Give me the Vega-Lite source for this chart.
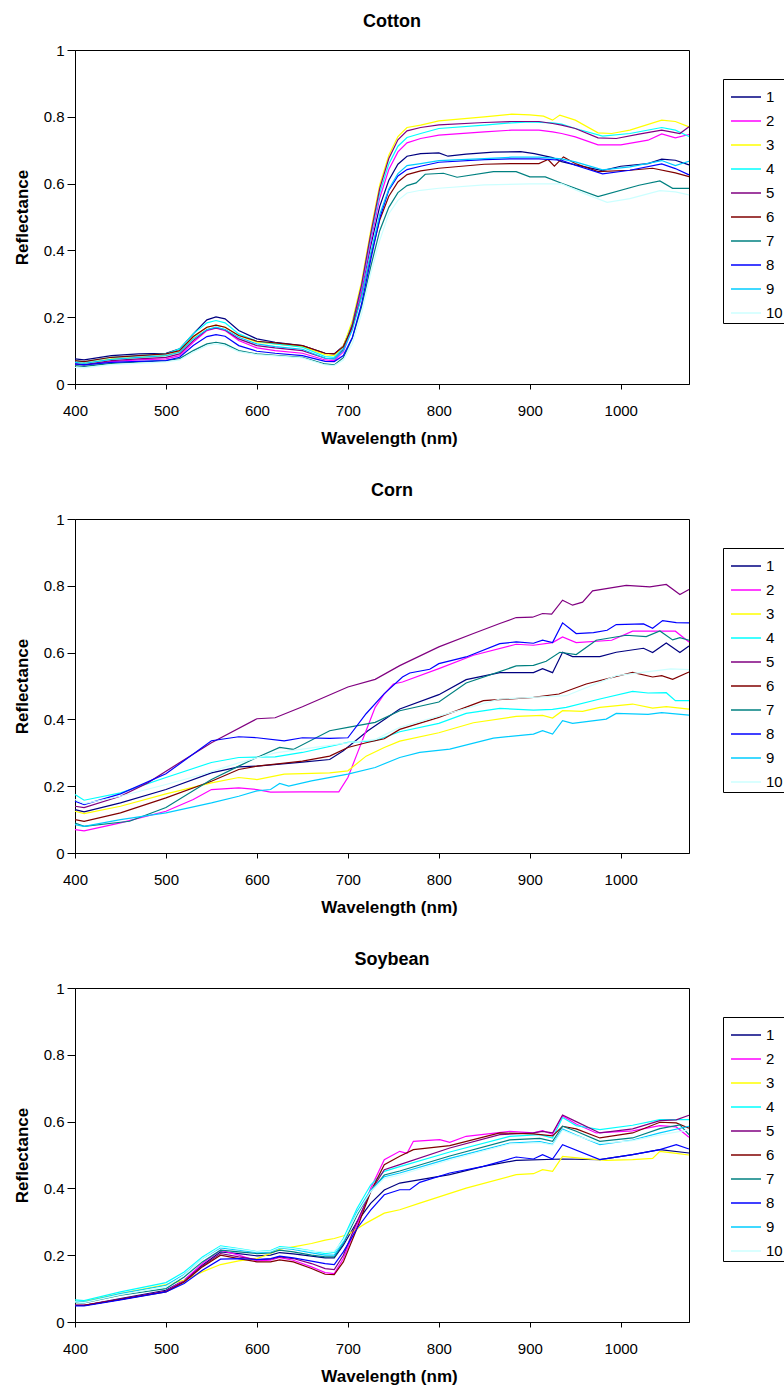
{
"$schema":"https://vega.github.io/schema/vega-lite/v6.json",
"padding":{"left":12,"top":12,"right":0,"bottom":0},
"config":{
 "font":"Liberation Sans",
 "view":{"stroke":"black","strokeWidth":1},
 "axis":{"domainColor":"black","tickColor":"black","labelColor":"black","titleColor":"black","grid":false,"labelFlush":false,"labelFontSize":15,"titleFontSize":17,"titleFontWeight":"bold","labelFont":"Liberation Sans","titleFont":"Liberation Sans"},
 "title":{"fontSize":18,"fontWeight":"bold","font":"Liberation Sans","color":"black","offset":12,"dx":10},
 "legend":{"title":null,"orient":"none","legendX":648,"legendY":29,"strokeColor":"black","fillColor":"white","padding":2,"symbolOffset":5,"symbolType":"stroke","symbolSize":900,"symbolStrokeWidth":1.5,"labelFontSize":15,"labelColor":"black","rowPadding":-4,"labelOffset":4,"labelFont":"Liberation Sans"},
 "concat":{"spacing":34}
},
"datasets":{
"cotton":[
{"s":1,"w":400,"r":0.075},{"s":1,"w":410,"r":0.072},{"s":1,"w":440,"r":0.085},{"s":1,"w":470,"r":0.09},{"s":1,"w":500,"r":0.092},{"s":1,"w":515,"r":0.105},{"s":1,"w":530,"r":0.15},{"s":1,"w":545,"r":0.192},{"s":1,"w":555,"r":0.201},{"s":1,"w":565,"r":0.195},{"s":1,"w":580,"r":0.16},{"s":1,"w":600,"r":0.135},{"s":1,"w":620,"r":0.125},{"s":1,"w":650,"r":0.115},{"s":1,"w":675,"r":0.092},{"s":1,"w":685,"r":0.09},{"s":1,"w":695,"r":0.114},{"s":1,"w":705,"r":0.18},{"s":1,"w":715,"r":0.281},{"s":1,"w":725,"r":0.413},{"s":1,"w":735,"r":0.532},{"s":1,"w":745,"r":0.61},{"s":1,"w":755,"r":0.658},{"s":1,"w":765,"r":0.682},{"s":1,"w":780,"r":0.69},{"s":1,"w":800,"r":0.692},{"s":1,"w":810,"r":0.682},{"s":1,"w":830,"r":0.688},{"s":1,"w":860,"r":0.694},{"s":1,"w":890,"r":0.696},{"s":1,"w":905,"r":0.69},{"s":1,"w":915,"r":0.684},{"s":1,"w":925,"r":0.678},{"s":1,"w":935,"r":0.666},{"s":1,"w":950,"r":0.656},{"s":1,"w":980,"r":0.639},{"s":1,"w":1000,"r":0.652},{"s":1,"w":1030,"r":0.66},{"s":1,"w":1045,"r":0.673},{"s":1,"w":1060,"r":0.67},{"s":1,"w":1075,"r":0.656},
{"s":2,"w":400,"r":0.06},{"s":2,"w":410,"r":0.057},{"s":2,"w":440,"r":0.067},{"s":2,"w":470,"r":0.072},{"s":2,"w":500,"r":0.075},{"s":2,"w":515,"r":0.085},{"s":2,"w":530,"r":0.125},{"s":2,"w":545,"r":0.16},{"s":2,"w":555,"r":0.167},{"s":2,"w":565,"r":0.16},{"s":2,"w":580,"r":0.13},{"s":2,"w":600,"r":0.108},{"s":2,"w":620,"r":0.1},{"s":2,"w":650,"r":0.092},{"s":2,"w":675,"r":0.072},{"s":2,"w":685,"r":0.07},{"s":2,"w":695,"r":0.096},{"s":2,"w":705,"r":0.169},{"s":2,"w":715,"r":0.281},{"s":2,"w":725,"r":0.425},{"s":2,"w":735,"r":0.557},{"s":2,"w":745,"r":0.642},{"s":2,"w":755,"r":0.695},{"s":2,"w":765,"r":0.722},{"s":2,"w":780,"r":0.735},{"s":2,"w":800,"r":0.745},{"s":2,"w":850,"r":0.755},{"s":2,"w":880,"r":0.76},{"s":2,"w":910,"r":0.76},{"s":2,"w":925,"r":0.755},{"s":2,"w":935,"r":0.75},{"s":2,"w":950,"r":0.74},{"s":2,"w":975,"r":0.716},{"s":2,"w":1000,"r":0.716},{"s":2,"w":1030,"r":0.73},{"s":2,"w":1045,"r":0.749},{"s":2,"w":1060,"r":0.737},{"s":2,"w":1075,"r":0.747},
{"s":3,"w":400,"r":0.065},{"s":3,"w":410,"r":0.062},{"s":3,"w":440,"r":0.075},{"s":3,"w":470,"r":0.08},{"s":3,"w":500,"r":0.085},{"s":3,"w":515,"r":0.097},{"s":3,"w":530,"r":0.14},{"s":3,"w":545,"r":0.17},{"s":3,"w":555,"r":0.176},{"s":3,"w":565,"r":0.17},{"s":3,"w":580,"r":0.145},{"s":3,"w":600,"r":0.125},{"s":3,"w":620,"r":0.12},{"s":3,"w":650,"r":0.112},{"s":3,"w":675,"r":0.088},{"s":3,"w":685,"r":0.085},{"s":3,"w":695,"r":0.113},{"s":3,"w":705,"r":0.19},{"s":3,"w":715,"r":0.306},{"s":3,"w":725,"r":0.458},{"s":3,"w":735,"r":0.596},{"s":3,"w":745,"r":0.685},{"s":3,"w":755,"r":0.741},{"s":3,"w":765,"r":0.768},{"s":3,"w":780,"r":0.775},{"s":3,"w":800,"r":0.788},{"s":3,"w":850,"r":0.8},{"s":3,"w":880,"r":0.808},{"s":3,"w":900,"r":0.806},{"s":3,"w":915,"r":0.802},{"s":3,"w":925,"r":0.79},{"s":3,"w":933,"r":0.805},{"s":3,"w":950,"r":0.79},{"s":3,"w":975,"r":0.752},{"s":3,"w":990,"r":0.75},{"s":3,"w":1010,"r":0.76},{"s":3,"w":1045,"r":0.79},{"s":3,"w":1060,"r":0.786},{"s":3,"w":1075,"r":0.77},
{"s":4,"w":400,"r":0.07},{"s":4,"w":410,"r":0.066},{"s":4,"w":440,"r":0.08},{"s":4,"w":470,"r":0.085},{"s":4,"w":500,"r":0.09},{"s":4,"w":515,"r":0.105},{"s":4,"w":530,"r":0.15},{"s":4,"w":545,"r":0.183},{"s":4,"w":555,"r":0.19},{"s":4,"w":565,"r":0.183},{"s":4,"w":580,"r":0.15},{"s":4,"w":600,"r":0.128},{"s":4,"w":620,"r":0.12},{"s":4,"w":650,"r":0.11},{"s":4,"w":675,"r":0.082},{"s":4,"w":685,"r":0.08},{"s":4,"w":695,"r":0.107},{"s":4,"w":705,"r":0.18},{"s":4,"w":715,"r":0.293},{"s":4,"w":725,"r":0.439},{"s":4,"w":735,"r":0.572},{"s":4,"w":745,"r":0.659},{"s":4,"w":755,"r":0.712},{"s":4,"w":765,"r":0.738},{"s":4,"w":780,"r":0.75},{"s":4,"w":800,"r":0.765},{"s":4,"w":850,"r":0.775},{"s":4,"w":880,"r":0.782},{"s":4,"w":900,"r":0.785},{"s":4,"w":925,"r":0.782},{"s":4,"w":935,"r":0.778},{"s":4,"w":950,"r":0.765},{"s":4,"w":980,"r":0.742},{"s":4,"w":1010,"r":0.75},{"s":4,"w":1045,"r":0.768},{"s":4,"w":1060,"r":0.76},{"s":4,"w":1075,"r":0.741},
{"s":5,"w":400,"r":0.06},{"s":5,"w":410,"r":0.058},{"s":5,"w":440,"r":0.07},{"s":5,"w":470,"r":0.075},{"s":5,"w":500,"r":0.08},{"s":5,"w":515,"r":0.09},{"s":5,"w":530,"r":0.13},{"s":5,"w":545,"r":0.162},{"s":5,"w":555,"r":0.168},{"s":5,"w":565,"r":0.162},{"s":5,"w":580,"r":0.135},{"s":5,"w":600,"r":0.115},{"s":5,"w":620,"r":0.108},{"s":5,"w":650,"r":0.1},{"s":5,"w":675,"r":0.077},{"s":5,"w":685,"r":0.075},{"s":5,"w":695,"r":0.103},{"s":5,"w":705,"r":0.179},{"s":5,"w":715,"r":0.296},{"s":5,"w":725,"r":0.448},{"s":5,"w":735,"r":0.586},{"s":5,"w":745,"r":0.675},{"s":5,"w":755,"r":0.731},{"s":5,"w":765,"r":0.758},{"s":5,"w":780,"r":0.768},{"s":5,"w":800,"r":0.776},{"s":5,"w":850,"r":0.783},{"s":5,"w":880,"r":0.786},{"s":5,"w":910,"r":0.786},{"s":5,"w":925,"r":0.78},{"s":5,"w":935,"r":0.775},{"s":5,"w":950,"r":0.765},{"s":5,"w":975,"r":0.737},{"s":5,"w":995,"r":0.735},{"s":5,"w":1020,"r":0.748},{"s":5,"w":1045,"r":0.76},{"s":5,"w":1065,"r":0.75},{"s":5,"w":1075,"r":0.77},
{"s":6,"w":400,"r":0.07},{"s":6,"w":410,"r":0.067},{"s":6,"w":440,"r":0.08},{"s":6,"w":470,"r":0.085},{"s":6,"w":500,"r":0.09},{"s":6,"w":515,"r":0.1},{"s":6,"w":530,"r":0.142},{"s":6,"w":545,"r":0.17},{"s":6,"w":555,"r":0.176},{"s":6,"w":565,"r":0.17},{"s":6,"w":580,"r":0.145},{"s":6,"w":600,"r":0.128},{"s":6,"w":620,"r":0.123},{"s":6,"w":650,"r":0.115},{"s":6,"w":675,"r":0.092},{"s":6,"w":685,"r":0.09},{"s":6,"w":695,"r":0.112},{"s":6,"w":705,"r":0.171},{"s":6,"w":715,"r":0.263},{"s":6,"w":725,"r":0.383},{"s":6,"w":735,"r":0.491},{"s":6,"w":745,"r":0.562},{"s":6,"w":755,"r":0.605},{"s":6,"w":765,"r":0.627},{"s":6,"w":780,"r":0.638},{"s":6,"w":800,"r":0.646},{"s":6,"w":850,"r":0.658},{"s":6,"w":880,"r":0.66},{"s":6,"w":910,"r":0.66},{"s":6,"w":920,"r":0.672},{"s":6,"w":927,"r":0.652},{"s":6,"w":937,"r":0.68},{"s":6,"w":950,"r":0.66},{"s":6,"w":975,"r":0.636},{"s":6,"w":1010,"r":0.64},{"s":6,"w":1035,"r":0.646},{"s":6,"w":1060,"r":0.632},{"s":6,"w":1075,"r":0.621},
{"s":7,"w":400,"r":0.055},{"s":7,"w":410,"r":0.053},{"s":7,"w":440,"r":0.062},{"s":7,"w":470,"r":0.066},{"s":7,"w":500,"r":0.07},{"s":7,"w":515,"r":0.076},{"s":7,"w":530,"r":0.1},{"s":7,"w":545,"r":0.12},{"s":7,"w":555,"r":0.125},{"s":7,"w":565,"r":0.12},{"s":7,"w":580,"r":0.1},{"s":7,"w":600,"r":0.09},{"s":7,"w":620,"r":0.086},{"s":7,"w":650,"r":0.08},{"s":7,"w":675,"r":0.06},{"s":7,"w":685,"r":0.057},{"s":7,"w":695,"r":0.079},{"s":7,"w":705,"r":0.138},{"s":7,"w":715,"r":0.231},{"s":7,"w":725,"r":0.35},{"s":7,"w":735,"r":0.459},{"s":7,"w":745,"r":0.529},{"s":7,"w":755,"r":0.573},{"s":7,"w":765,"r":0.594},{"s":7,"w":775,"r":0.602},{"s":7,"w":785,"r":0.628},{"s":7,"w":805,"r":0.631},{"s":7,"w":820,"r":0.619},{"s":7,"w":860,"r":0.636},{"s":7,"w":885,"r":0.636},{"s":7,"w":900,"r":0.62},{"s":7,"w":917,"r":0.62},{"s":7,"w":935,"r":0.601},{"s":7,"w":975,"r":0.561},{"s":7,"w":1020,"r":0.595},{"s":7,"w":1043,"r":0.608},{"s":7,"w":1057,"r":0.586},{"s":7,"w":1075,"r":0.586},
{"s":8,"w":400,"r":0.06},{"s":8,"w":410,"r":0.057},{"s":8,"w":440,"r":0.065},{"s":8,"w":470,"r":0.068},{"s":8,"w":500,"r":0.07},{"s":8,"w":515,"r":0.08},{"s":8,"w":530,"r":0.115},{"s":8,"w":545,"r":0.142},{"s":8,"w":555,"r":0.148},{"s":8,"w":565,"r":0.143},{"s":8,"w":580,"r":0.115},{"s":8,"w":600,"r":0.098},{"s":8,"w":620,"r":0.092},{"s":8,"w":650,"r":0.085},{"s":8,"w":675,"r":0.068},{"s":8,"w":685,"r":0.067},{"s":8,"w":695,"r":0.085},{"s":8,"w":705,"r":0.14},{"s":8,"w":715,"r":0.24},{"s":8,"w":725,"r":0.37},{"s":8,"w":735,"r":0.497},{"s":8,"w":745,"r":0.58},{"s":8,"w":755,"r":0.623},{"s":8,"w":765,"r":0.642},{"s":8,"w":780,"r":0.652},{"s":8,"w":800,"r":0.664},{"s":8,"w":850,"r":0.672},{"s":8,"w":880,"r":0.674},{"s":8,"w":910,"r":0.674},{"s":8,"w":935,"r":0.67},{"s":8,"w":950,"r":0.655},{"s":8,"w":980,"r":0.629},{"s":8,"w":1010,"r":0.64},{"s":8,"w":1045,"r":0.659},{"s":8,"w":1060,"r":0.645},{"s":8,"w":1075,"r":0.626},
{"s":9,"w":400,"r":0.065},{"s":9,"w":410,"r":0.062},{"s":9,"w":440,"r":0.074},{"s":9,"w":470,"r":0.08},{"s":9,"w":500,"r":0.085},{"s":9,"w":515,"r":0.095},{"s":9,"w":530,"r":0.135},{"s":9,"w":545,"r":0.163},{"s":9,"w":555,"r":0.17},{"s":9,"w":565,"r":0.163},{"s":9,"w":580,"r":0.14},{"s":9,"w":600,"r":0.12},{"s":9,"w":620,"r":0.112},{"s":9,"w":650,"r":0.104},{"s":9,"w":675,"r":0.077},{"s":9,"w":685,"r":0.075},{"s":9,"w":695,"r":0.1},{"s":9,"w":705,"r":0.163},{"s":9,"w":715,"r":0.262},{"s":9,"w":725,"r":0.391},{"s":9,"w":735,"r":0.508},{"s":9,"w":745,"r":0.584},{"s":9,"w":755,"r":0.63},{"s":9,"w":765,"r":0.654},{"s":9,"w":780,"r":0.66},{"s":9,"w":800,"r":0.669},{"s":9,"w":850,"r":0.675},{"s":9,"w":880,"r":0.679},{"s":9,"w":910,"r":0.679},{"s":9,"w":935,"r":0.674},{"s":9,"w":950,"r":0.665},{"s":9,"w":980,"r":0.641},{"s":9,"w":1010,"r":0.65},{"s":9,"w":1045,"r":0.669},{"s":9,"w":1060,"r":0.654},{"s":9,"w":1075,"r":0.667},
{"s":10,"w":400,"r":0.05},{"s":10,"w":410,"r":0.048},{"s":10,"w":440,"r":0.058},{"s":10,"w":470,"r":0.062},{"s":10,"w":500,"r":0.066},{"s":10,"w":515,"r":0.072},{"s":10,"w":530,"r":0.095},{"s":10,"w":545,"r":0.115},{"s":10,"w":555,"r":0.12},{"s":10,"w":565,"r":0.115},{"s":10,"w":580,"r":0.097},{"s":10,"w":600,"r":0.088},{"s":10,"w":620,"r":0.084},{"s":10,"w":650,"r":0.078},{"s":10,"w":675,"r":0.057},{"s":10,"w":685,"r":0.055},{"s":10,"w":695,"r":0.072},{"s":10,"w":705,"r":0.122},{"s":10,"w":715,"r":0.21},{"s":10,"w":725,"r":0.33},{"s":10,"w":735,"r":0.43},{"s":10,"w":745,"r":0.51},{"s":10,"w":755,"r":0.55},{"s":10,"w":765,"r":0.572},{"s":10,"w":780,"r":0.58},{"s":10,"w":800,"r":0.586},{"s":10,"w":850,"r":0.596},{"s":10,"w":900,"r":0.599},{"s":10,"w":935,"r":0.599},{"s":10,"w":960,"r":0.57},{"s":10,"w":985,"r":0.544},{"s":10,"w":1010,"r":0.555},{"s":10,"w":1043,"r":0.579},{"s":10,"w":1060,"r":0.575},{"s":10,"w":1075,"r":0.566}
],
"corn":[
{"s":1,"w":400,"r":0.13},{"s":1,"w":410,"r":0.123},{"s":1,"w":450,"r":0.15},{"s":1,"w":500,"r":0.19},{"s":1,"w":550,"r":0.24},{"s":1,"w":580,"r":0.258},{"s":1,"w":600,"r":0.26},{"s":1,"w":650,"r":0.272},{"s":1,"w":680,"r":0.28},{"s":1,"w":695,"r":0.306},{"s":1,"w":722,"r":0.366},{"s":1,"w":757,"r":0.431},{"s":1,"w":800,"r":0.474},{"s":1,"w":830,"r":0.519},{"s":1,"w":867,"r":0.54},{"s":1,"w":904,"r":0.54},{"s":1,"w":914,"r":0.552},{"s":1,"w":925,"r":0.54},{"s":1,"w":936,"r":0.601},{"s":1,"w":947,"r":0.588},{"s":1,"w":977,"r":0.588},{"s":1,"w":995,"r":0.601},{"s":1,"w":1025,"r":0.613},{"s":1,"w":1035,"r":0.6},{"s":1,"w":1050,"r":0.629},{"s":1,"w":1065,"r":0.6},{"s":1,"w":1075,"r":0.62},
{"s":2,"w":400,"r":0.07},{"s":2,"w":410,"r":0.066},{"s":2,"w":450,"r":0.09},{"s":2,"w":500,"r":0.125},{"s":2,"w":530,"r":0.16},{"s":2,"w":550,"r":0.19},{"s":2,"w":580,"r":0.195},{"s":2,"w":600,"r":0.19},{"s":2,"w":615,"r":0.182},{"s":2,"w":650,"r":0.183},{"s":2,"w":690,"r":0.183},{"s":2,"w":700,"r":0.226},{"s":2,"w":710,"r":0.296},{"s":2,"w":720,"r":0.366},{"s":2,"w":730,"r":0.436},{"s":2,"w":740,"r":0.476},{"s":2,"w":750,"r":0.506},{"s":2,"w":760,"r":0.512},{"s":2,"w":800,"r":0.552},{"s":2,"w":838,"r":0.592},{"s":2,"w":885,"r":0.625},{"s":2,"w":904,"r":0.622},{"s":2,"w":925,"r":0.63},{"s":2,"w":936,"r":0.647},{"s":2,"w":951,"r":0.63},{"s":2,"w":990,"r":0.637},{"s":2,"w":1013,"r":0.664},{"s":2,"w":1060,"r":0.664},{"s":2,"w":1075,"r":0.632},
{"s":3,"w":400,"r":0.125},{"s":3,"w":410,"r":0.118},{"s":3,"w":450,"r":0.14},{"s":3,"w":500,"r":0.177},{"s":3,"w":550,"r":0.21},{"s":3,"w":580,"r":0.226},{"s":3,"w":600,"r":0.22},{"s":3,"w":630,"r":0.236},{"s":3,"w":680,"r":0.24},{"s":3,"w":700,"r":0.246},{"s":3,"w":720,"r":0.29},{"s":3,"w":740,"r":0.316},{"s":3,"w":757,"r":0.335},{"s":3,"w":800,"r":0.36},{"s":3,"w":838,"r":0.39},{"s":3,"w":885,"r":0.409},{"s":3,"w":914,"r":0.412},{"s":3,"w":925,"r":0.404},{"s":3,"w":936,"r":0.426},{"s":3,"w":958,"r":0.424},{"s":3,"w":977,"r":0.436},{"s":3,"w":1013,"r":0.446},{"s":3,"w":1035,"r":0.434},{"s":3,"w":1050,"r":0.438},{"s":3,"w":1075,"r":0.431},
{"s":4,"w":400,"r":0.175},{"s":4,"w":410,"r":0.158},{"s":4,"w":450,"r":0.18},{"s":4,"w":500,"r":0.226},{"s":4,"w":550,"r":0.271},{"s":4,"w":580,"r":0.286},{"s":4,"w":620,"r":0.288},{"s":4,"w":650,"r":0.301},{"s":4,"w":700,"r":0.331},{"s":4,"w":730,"r":0.336},{"s":4,"w":757,"r":0.363},{"s":4,"w":800,"r":0.388},{"s":4,"w":830,"r":0.418},{"s":4,"w":867,"r":0.433},{"s":4,"w":904,"r":0.428},{"s":4,"w":925,"r":0.43},{"s":4,"w":940,"r":0.436},{"s":4,"w":977,"r":0.461},{"s":4,"w":1013,"r":0.484},{"s":4,"w":1030,"r":0.479},{"s":4,"w":1050,"r":0.48},{"s":4,"w":1060,"r":0.456},{"s":4,"w":1075,"r":0.456},
{"s":5,"w":400,"r":0.14},{"s":5,"w":410,"r":0.136},{"s":5,"w":450,"r":0.17},{"s":5,"w":480,"r":0.21},{"s":5,"w":500,"r":0.245},{"s":5,"w":550,"r":0.33},{"s":5,"w":600,"r":0.402},{"s":5,"w":620,"r":0.405},{"s":5,"w":650,"r":0.438},{"s":5,"w":700,"r":0.497},{"s":5,"w":730,"r":0.52},{"s":5,"w":757,"r":0.561},{"s":5,"w":800,"r":0.617},{"s":5,"w":838,"r":0.657},{"s":5,"w":867,"r":0.687},{"s":5,"w":885,"r":0.705},{"s":5,"w":903,"r":0.706},{"s":5,"w":914,"r":0.717},{"s":5,"w":924,"r":0.715},{"s":5,"w":936,"r":0.757},{"s":5,"w":947,"r":0.742},{"s":5,"w":958,"r":0.751},{"s":5,"w":969,"r":0.785},{"s":5,"w":1006,"r":0.801},{"s":5,"w":1032,"r":0.797},{"s":5,"w":1050,"r":0.804},{"s":5,"w":1065,"r":0.774},{"s":5,"w":1075,"r":0.789},
{"s":6,"w":400,"r":0.1},{"s":6,"w":410,"r":0.095},{"s":6,"w":450,"r":0.12},{"s":6,"w":500,"r":0.165},{"s":6,"w":550,"r":0.215},{"s":6,"w":580,"r":0.25},{"s":6,"w":600,"r":0.26},{"s":6,"w":650,"r":0.275},{"s":6,"w":680,"r":0.29},{"s":6,"w":700,"r":0.316},{"s":6,"w":720,"r":0.33},{"s":6,"w":740,"r":0.342},{"s":6,"w":757,"r":0.37},{"s":6,"w":800,"r":0.406},{"s":6,"w":849,"r":0.456},{"s":6,"w":904,"r":0.466},{"s":6,"w":932,"r":0.476},{"s":6,"w":962,"r":0.506},{"s":6,"w":1013,"r":0.541},{"s":6,"w":1035,"r":0.527},{"s":6,"w":1045,"r":0.531},{"s":6,"w":1057,"r":0.52},{"s":6,"w":1075,"r":0.542},
{"s":7,"w":400,"r":0.09},{"s":7,"w":410,"r":0.08},{"s":7,"w":460,"r":0.095},{"s":7,"w":500,"r":0.136},{"s":7,"w":550,"r":0.22},{"s":7,"w":580,"r":0.26},{"s":7,"w":600,"r":0.286},{"s":7,"w":625,"r":0.316},{"s":7,"w":640,"r":0.31},{"s":7,"w":680,"r":0.366},{"s":7,"w":700,"r":0.376},{"s":7,"w":730,"r":0.391},{"s":7,"w":757,"r":0.426},{"s":7,"w":800,"r":0.452},{"s":7,"w":830,"r":0.509},{"s":7,"w":885,"r":0.56},{"s":7,"w":904,"r":0.562},{"s":7,"w":918,"r":0.574},{"s":7,"w":933,"r":0.601},{"s":7,"w":951,"r":0.594},{"s":7,"w":973,"r":0.637},{"s":7,"w":1006,"r":0.652},{"s":7,"w":1028,"r":0.648},{"s":7,"w":1043,"r":0.665},{"s":7,"w":1057,"r":0.638},{"s":7,"w":1065,"r":0.645},{"s":7,"w":1075,"r":0.637},
{"s":8,"w":400,"r":0.155},{"s":8,"w":410,"r":0.145},{"s":8,"w":450,"r":0.177},{"s":8,"w":500,"r":0.237},{"s":8,"w":550,"r":0.336},{"s":8,"w":580,"r":0.348},{"s":8,"w":600,"r":0.345},{"s":8,"w":630,"r":0.336},{"s":8,"w":650,"r":0.345},{"s":8,"w":680,"r":0.343},{"s":8,"w":700,"r":0.345},{"s":8,"w":720,"r":0.417},{"s":8,"w":740,"r":0.477},{"s":8,"w":760,"r":0.527},{"s":8,"w":768,"r":0.539},{"s":8,"w":790,"r":0.55},{"s":8,"w":800,"r":0.567},{"s":8,"w":830,"r":0.587},{"s":8,"w":867,"r":0.627},{"s":8,"w":885,"r":0.632},{"s":8,"w":904,"r":0.628},{"s":8,"w":914,"r":0.637},{"s":8,"w":925,"r":0.63},{"s":8,"w":936,"r":0.689},{"s":8,"w":951,"r":0.657},{"s":8,"w":970,"r":0.66},{"s":8,"w":985,"r":0.667},{"s":8,"w":995,"r":0.684},{"s":8,"w":1025,"r":0.686},{"s":8,"w":1035,"r":0.673},{"s":8,"w":1046,"r":0.696},{"s":8,"w":1061,"r":0.69},{"s":8,"w":1075,"r":0.689},
{"s":9,"w":400,"r":0.085},{"s":9,"w":410,"r":0.08},{"s":9,"w":450,"r":0.1},{"s":9,"w":500,"r":0.12},{"s":9,"w":550,"r":0.15},{"s":9,"w":580,"r":0.17},{"s":9,"w":600,"r":0.186},{"s":9,"w":615,"r":0.19},{"s":9,"w":625,"r":0.208},{"s":9,"w":635,"r":0.2},{"s":9,"w":660,"r":0.216},{"s":9,"w":700,"r":0.236},{"s":9,"w":730,"r":0.256},{"s":9,"w":757,"r":0.286},{"s":9,"w":779,"r":0.301},{"s":9,"w":812,"r":0.311},{"s":9,"w":860,"r":0.344},{"s":9,"w":904,"r":0.356},{"s":9,"w":914,"r":0.366},{"s":9,"w":925,"r":0.356},{"s":9,"w":936,"r":0.396},{"s":9,"w":947,"r":0.388},{"s":9,"w":984,"r":0.401},{"s":9,"w":995,"r":0.418},{"s":9,"w":1030,"r":0.415},{"s":9,"w":1045,"r":0.42},{"s":9,"w":1075,"r":0.413},
{"s":10,"w":400,"r":0.16},{"s":10,"w":410,"r":0.148},{"s":10,"w":450,"r":0.17},{"s":10,"w":500,"r":0.205},{"s":10,"w":540,"r":0.235},{"s":10,"w":580,"r":0.27},{"s":10,"w":620,"r":0.3},{"s":10,"w":660,"r":0.315},{"s":10,"w":700,"r":0.33},{"s":10,"w":730,"r":0.34},{"s":10,"w":757,"r":0.376},{"s":10,"w":800,"r":0.41},{"s":10,"w":867,"r":0.461},{"s":10,"w":940,"r":0.471},{"s":10,"w":995,"r":0.531},{"s":10,"w":1055,"r":0.551},{"s":10,"w":1075,"r":0.549}
],
"soy":[
{"s":1,"w":400,"r":0.05},{"s":1,"w":410,"r":0.05},{"s":1,"w":450,"r":0.07},{"s":1,"w":500,"r":0.095},{"s":1,"w":520,"r":0.125},{"s":1,"w":540,"r":0.17},{"s":1,"w":560,"r":0.21},{"s":1,"w":580,"r":0.205},{"s":1,"w":600,"r":0.198},{"s":1,"w":615,"r":0.2},{"s":1,"w":625,"r":0.208},{"s":1,"w":640,"r":0.204},{"s":1,"w":660,"r":0.197},{"s":1,"w":675,"r":0.192},{"s":1,"w":685,"r":0.192},{"s":1,"w":695,"r":0.23},{"s":1,"w":710,"r":0.3},{"s":1,"w":725,"r":0.355},{"s":1,"w":740,"r":0.395},{"s":1,"w":757,"r":0.416},{"s":1,"w":812,"r":0.441},{"s":1,"w":849,"r":0.466},{"s":1,"w":885,"r":0.484},{"s":1,"w":936,"r":0.488},{"s":1,"w":977,"r":0.486},{"s":1,"w":1013,"r":0.501},{"s":1,"w":1043,"r":0.516},{"s":1,"w":1075,"r":0.506},
{"s":2,"w":400,"r":0.05},{"s":2,"w":410,"r":0.05},{"s":2,"w":450,"r":0.068},{"s":2,"w":500,"r":0.092},{"s":2,"w":520,"r":0.125},{"s":2,"w":540,"r":0.175},{"s":2,"w":560,"r":0.215},{"s":2,"w":580,"r":0.2},{"s":2,"w":600,"r":0.183},{"s":2,"w":615,"r":0.185},{"s":2,"w":625,"r":0.193},{"s":2,"w":640,"r":0.185},{"s":2,"w":660,"r":0.165},{"s":2,"w":675,"r":0.148},{"s":2,"w":685,"r":0.145},{"s":2,"w":695,"r":0.19},{"s":2,"w":710,"r":0.29},{"s":2,"w":725,"r":0.4},{"s":2,"w":740,"r":0.486},{"s":2,"w":757,"r":0.511},{"s":2,"w":765,"r":0.505},{"s":2,"w":772,"r":0.541},{"s":2,"w":801,"r":0.546},{"s":2,"w":812,"r":0.538},{"s":2,"w":830,"r":0.556},{"s":2,"w":878,"r":0.571},{"s":2,"w":904,"r":0.566},{"s":2,"w":914,"r":0.573},{"s":2,"w":925,"r":0.562},{"s":2,"w":936,"r":0.617},{"s":2,"w":951,"r":0.593},{"s":2,"w":973,"r":0.566},{"s":2,"w":1013,"r":0.572},{"s":2,"w":1043,"r":0.588},{"s":2,"w":1061,"r":0.584},{"s":2,"w":1075,"r":0.553},
{"s":3,"w":400,"r":0.062},{"s":3,"w":410,"r":0.062},{"s":3,"w":450,"r":0.085},{"s":3,"w":500,"r":0.112},{"s":3,"w":520,"r":0.125},{"s":3,"w":540,"r":0.15},{"s":3,"w":560,"r":0.172},{"s":3,"w":580,"r":0.183},{"s":3,"w":600,"r":0.19},{"s":3,"w":615,"r":0.205},{"s":3,"w":625,"r":0.218},{"s":3,"w":640,"r":0.225},{"s":3,"w":660,"r":0.235},{"s":3,"w":675,"r":0.245},{"s":3,"w":685,"r":0.25},{"s":3,"w":700,"r":0.262},{"s":3,"w":720,"r":0.296},{"s":3,"w":740,"r":0.326},{"s":3,"w":757,"r":0.336},{"s":3,"w":779,"r":0.356},{"s":3,"w":830,"r":0.401},{"s":3,"w":885,"r":0.441},{"s":3,"w":904,"r":0.444},{"s":3,"w":914,"r":0.456},{"s":3,"w":925,"r":0.451},{"s":3,"w":936,"r":0.496},{"s":3,"w":958,"r":0.49},{"s":3,"w":984,"r":0.484},{"s":3,"w":1013,"r":0.486},{"s":3,"w":1035,"r":0.49},{"s":3,"w":1043,"r":0.511},{"s":3,"w":1061,"r":0.505},{"s":3,"w":1075,"r":0.5},
{"s":4,"w":400,"r":0.066},{"s":4,"w":410,"r":0.064},{"s":4,"w":450,"r":0.09},{"s":4,"w":500,"r":0.118},{"s":4,"w":520,"r":0.15},{"s":4,"w":540,"r":0.195},{"s":4,"w":560,"r":0.228},{"s":4,"w":580,"r":0.22},{"s":4,"w":600,"r":0.211},{"s":4,"w":615,"r":0.214},{"s":4,"w":625,"r":0.226},{"s":4,"w":640,"r":0.222},{"s":4,"w":660,"r":0.213},{"s":4,"w":675,"r":0.205},{"s":4,"w":685,"r":0.208},{"s":4,"w":695,"r":0.25},{"s":4,"w":710,"r":0.34},{"s":4,"w":725,"r":0.41},{"s":4,"w":740,"r":0.451},{"s":4,"w":757,"r":0.465},{"s":4,"w":812,"r":0.509},{"s":4,"w":878,"r":0.556},{"s":4,"w":911,"r":0.561},{"s":4,"w":925,"r":0.551},{"s":4,"w":936,"r":0.612},{"s":4,"w":951,"r":0.588},{"s":4,"w":977,"r":0.576},{"s":4,"w":1013,"r":0.589},{"s":4,"w":1043,"r":0.606},{"s":4,"w":1075,"r":0.606},
{"s":5,"w":400,"r":0.05},{"s":5,"w":410,"r":0.05},{"s":5,"w":450,"r":0.068},{"s":5,"w":500,"r":0.092},{"s":5,"w":520,"r":0.122},{"s":5,"w":540,"r":0.168},{"s":5,"w":560,"r":0.205},{"s":5,"w":580,"r":0.195},{"s":5,"w":600,"r":0.187},{"s":5,"w":615,"r":0.188},{"s":5,"w":625,"r":0.195},{"s":5,"w":640,"r":0.19},{"s":5,"w":660,"r":0.175},{"s":5,"w":675,"r":0.16},{"s":5,"w":685,"r":0.157},{"s":5,"w":695,"r":0.2},{"s":5,"w":710,"r":0.3},{"s":5,"w":725,"r":0.39},{"s":5,"w":740,"r":0.456},{"s":5,"w":757,"r":0.471},{"s":5,"w":812,"r":0.521},{"s":5,"w":867,"r":0.561},{"s":5,"w":904,"r":0.566},{"s":5,"w":914,"r":0.571},{"s":5,"w":925,"r":0.566},{"s":5,"w":936,"r":0.62},{"s":5,"w":951,"r":0.6},{"s":5,"w":977,"r":0.566},{"s":5,"w":1013,"r":0.578},{"s":5,"w":1043,"r":0.603},{"s":5,"w":1061,"r":0.605},{"s":5,"w":1075,"r":0.619},
{"s":6,"w":400,"r":0.05},{"s":6,"w":410,"r":0.05},{"s":6,"w":450,"r":0.068},{"s":6,"w":500,"r":0.09},{"s":6,"w":520,"r":0.12},{"s":6,"w":540,"r":0.165},{"s":6,"w":560,"r":0.2},{"s":6,"w":580,"r":0.19},{"s":6,"w":600,"r":0.18},{"s":6,"w":615,"r":0.18},{"s":6,"w":625,"r":0.186},{"s":6,"w":640,"r":0.18},{"s":6,"w":660,"r":0.16},{"s":6,"w":675,"r":0.143},{"s":6,"w":685,"r":0.142},{"s":6,"w":695,"r":0.18},{"s":6,"w":710,"r":0.28},{"s":6,"w":725,"r":0.39},{"s":6,"w":740,"r":0.471},{"s":6,"w":757,"r":0.496},{"s":6,"w":772,"r":0.516},{"s":6,"w":812,"r":0.528},{"s":6,"w":867,"r":0.566},{"s":6,"w":904,"r":0.563},{"s":6,"w":925,"r":0.557},{"s":6,"w":936,"r":0.586},{"s":6,"w":951,"r":0.578},{"s":6,"w":977,"r":0.551},{"s":6,"w":1013,"r":0.566},{"s":6,"w":1043,"r":0.598},{"s":6,"w":1061,"r":0.596},{"s":6,"w":1075,"r":0.58},
{"s":7,"w":400,"r":0.058},{"s":7,"w":410,"r":0.057},{"s":7,"w":450,"r":0.08},{"s":7,"w":500,"r":0.1},{"s":7,"w":520,"r":0.135},{"s":7,"w":540,"r":0.18},{"s":7,"w":560,"r":0.215},{"s":7,"w":580,"r":0.21},{"s":7,"w":600,"r":0.205},{"s":7,"w":615,"r":0.207},{"s":7,"w":625,"r":0.215},{"s":7,"w":640,"r":0.21},{"s":7,"w":660,"r":0.2},{"s":7,"w":675,"r":0.195},{"s":7,"w":685,"r":0.195},{"s":7,"w":695,"r":0.235},{"s":7,"w":710,"r":0.32},{"s":7,"w":725,"r":0.39},{"s":7,"w":740,"r":0.44},{"s":7,"w":757,"r":0.452},{"s":7,"w":812,"r":0.497},{"s":7,"w":878,"r":0.545},{"s":7,"w":911,"r":0.55},{"s":7,"w":925,"r":0.541},{"s":7,"w":936,"r":0.586},{"s":7,"w":951,"r":0.571},{"s":7,"w":977,"r":0.541},{"s":7,"w":1013,"r":0.551},{"s":7,"w":1043,"r":0.579},{"s":7,"w":1065,"r":0.59},{"s":7,"w":1075,"r":0.561},
{"s":8,"w":400,"r":0.048},{"s":8,"w":410,"r":0.048},{"s":8,"w":450,"r":0.066},{"s":8,"w":500,"r":0.09},{"s":8,"w":520,"r":0.115},{"s":8,"w":540,"r":0.155},{"s":8,"w":560,"r":0.188},{"s":8,"w":580,"r":0.19},{"s":8,"w":600,"r":0.187},{"s":8,"w":615,"r":0.19},{"s":8,"w":625,"r":0.197},{"s":8,"w":640,"r":0.192},{"s":8,"w":660,"r":0.182},{"s":8,"w":675,"r":0.175},{"s":8,"w":685,"r":0.172},{"s":8,"w":695,"r":0.21},{"s":8,"w":710,"r":0.28},{"s":8,"w":725,"r":0.335},{"s":8,"w":740,"r":0.381},{"s":8,"w":757,"r":0.396},{"s":8,"w":768,"r":0.396},{"s":8,"w":779,"r":0.418},{"s":8,"w":812,"r":0.446},{"s":8,"w":849,"r":0.466},{"s":8,"w":885,"r":0.494},{"s":8,"w":904,"r":0.488},{"s":8,"w":914,"r":0.501},{"s":8,"w":925,"r":0.488},{"s":8,"w":936,"r":0.531},{"s":8,"w":977,"r":0.486},{"s":8,"w":1013,"r":0.501},{"s":8,"w":1043,"r":0.516},{"s":8,"w":1061,"r":0.531},{"s":8,"w":1075,"r":0.518},
{"s":9,"w":400,"r":0.062},{"s":9,"w":410,"r":0.06},{"s":9,"w":450,"r":0.085},{"s":9,"w":500,"r":0.11},{"s":9,"w":520,"r":0.142},{"s":9,"w":540,"r":0.19},{"s":9,"w":560,"r":0.222},{"s":9,"w":580,"r":0.215},{"s":9,"w":600,"r":0.208},{"s":9,"w":615,"r":0.21},{"s":9,"w":625,"r":0.222},{"s":9,"w":640,"r":0.217},{"s":9,"w":660,"r":0.207},{"s":9,"w":675,"r":0.2},{"s":9,"w":685,"r":0.2},{"s":9,"w":695,"r":0.24},{"s":9,"w":710,"r":0.33},{"s":9,"w":725,"r":0.395},{"s":9,"w":740,"r":0.435},{"s":9,"w":757,"r":0.446},{"s":9,"w":812,"r":0.49},{"s":9,"w":878,"r":0.536},{"s":9,"w":911,"r":0.54},{"s":9,"w":925,"r":0.532},{"s":9,"w":936,"r":0.578},{"s":9,"w":951,"r":0.56},{"s":9,"w":977,"r":0.531},{"s":9,"w":1013,"r":0.545},{"s":9,"w":1043,"r":0.566},{"s":9,"w":1075,"r":0.586},
{"s":10,"w":400,"r":0.06},{"s":10,"w":410,"r":0.058},{"s":10,"w":450,"r":0.082},{"s":10,"w":500,"r":0.105},{"s":10,"w":520,"r":0.14},{"s":10,"w":540,"r":0.19},{"s":10,"w":560,"r":0.225},{"s":10,"w":580,"r":0.218},{"s":10,"w":600,"r":0.21},{"s":10,"w":615,"r":0.212},{"s":10,"w":625,"r":0.223},{"s":10,"w":640,"r":0.22},{"s":10,"w":660,"r":0.212},{"s":10,"w":675,"r":0.21},{"s":10,"w":685,"r":0.212},{"s":10,"w":695,"r":0.245},{"s":10,"w":710,"r":0.325},{"s":10,"w":725,"r":0.39},{"s":10,"w":740,"r":0.43},{"s":10,"w":757,"r":0.44},{"s":10,"w":812,"r":0.485},{"s":10,"w":878,"r":0.533},{"s":10,"w":911,"r":0.537},{"s":10,"w":925,"r":0.53},{"s":10,"w":936,"r":0.574},{"s":10,"w":951,"r":0.558},{"s":10,"w":977,"r":0.535},{"s":10,"w":1013,"r":0.543},{"s":10,"w":1043,"r":0.56},{"s":10,"w":1075,"r":0.575}
]
},
"vconcat":[
{"title":"Cotton","width":614,"height":334,"data":{"name":"cotton"},"mark":{"type":"line","strokeWidth":1.2},
 "encoding":{
  "x":{"field":"w","type":"quantitative","scale":{"domain":[400,1075],"nice":false,"zero":false},"axis":{"values":[400,500,600,700,800,900,1000],"format":"d","title":"Wavelength (nm)","tickSize":5,"labelPadding":14,"titlePadding":12,"titleX":314}},
  "y":{"field":"r","type":"quantitative","scale":{"domain":[0,1],"nice":false},"axis":{"values":[0,0.2,0.4,0.6,0.8,1],"format":"~g","title":"Reflectance","tickSize":8,"labelPadding":3,"titlePadding":12}},
  "color":{"field":"s","type":"nominal","scale":{"domain":[1,2,3,4,5,6,7,8,9,10],"range":["#000080","#FF00FF","#FFFF00","#00FFFF","#800080","#800000","#008080","#0000FF","#00CCFF","#CCFFFF"]}}
 }},
{"title":"Corn","width":614,"height":334,"data":{"name":"corn"},"mark":{"type":"line","strokeWidth":1.2},
 "encoding":{
  "x":{"field":"w","type":"quantitative","scale":{"domain":[400,1075],"nice":false,"zero":false},"axis":{"values":[400,500,600,700,800,900,1000],"format":"d","title":"Wavelength (nm)","tickSize":5,"labelPadding":14,"titlePadding":12,"titleX":314}},
  "y":{"field":"r","type":"quantitative","scale":{"domain":[0,1],"nice":false},"axis":{"values":[0,0.2,0.4,0.6,0.8,1],"format":"~g","title":"Reflectance","tickSize":8,"labelPadding":3,"titlePadding":12}},
  "color":{"field":"s","type":"nominal","scale":{"domain":[1,2,3,4,5,6,7,8,9,10],"range":["#000080","#FF00FF","#FFFF00","#00FFFF","#800080","#800000","#008080","#0000FF","#00CCFF","#CCFFFF"]}}
 }},
{"title":"Soybean","width":614,"height":334,"data":{"name":"soy"},"mark":{"type":"line","strokeWidth":1.2},
 "encoding":{
  "x":{"field":"w","type":"quantitative","scale":{"domain":[400,1075],"nice":false,"zero":false},"axis":{"values":[400,500,600,700,800,900,1000],"format":"d","title":"Wavelength (nm)","tickSize":5,"labelPadding":14,"titlePadding":12,"titleX":314}},
  "y":{"field":"r","type":"quantitative","scale":{"domain":[0,1],"nice":false},"axis":{"values":[0,0.2,0.4,0.6,0.8,1],"format":"~g","title":"Reflectance","tickSize":8,"labelPadding":3,"titlePadding":12}},
  "color":{"field":"s","type":"nominal","scale":{"domain":[1,2,3,4,5,6,7,8,9,10],"range":["#000080","#FF00FF","#FFFF00","#00FFFF","#800080","#800000","#008080","#0000FF","#00CCFF","#CCFFFF"]}}
 }}
],
"resolve":{"scale":{"color":"independent"},"legend":{"color":"independent"}}
}
